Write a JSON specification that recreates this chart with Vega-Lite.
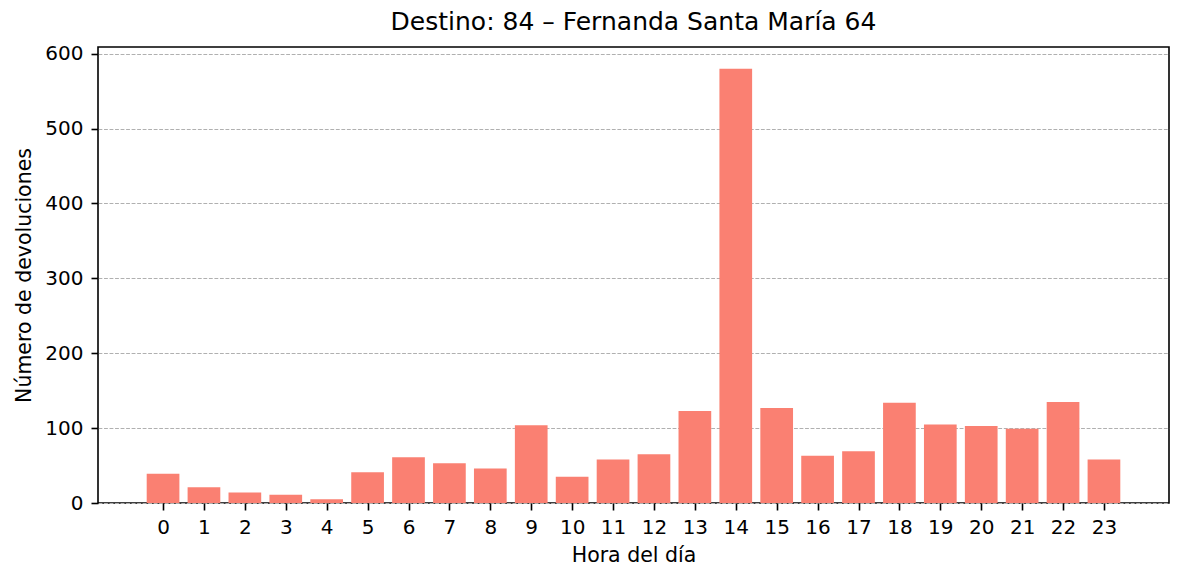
{
  "$schema": "https://vega.github.io/schema/vega-lite/v6.json",
  "width": 1071,
  "height": 456,
  "autosize": {"type": "none"},
  "padding": {"left": 98, "top": 47, "right": 15, "bottom": 78},
  "title": {
    "text": "Destino: 84 – Fernanda Santa María 64",
    "font": "DejaVu Sans",
    "fontSize": 25,
    "fontWeight": "normal",
    "color": "#000000",
    "anchor": "middle",
    "offset": 9
  },
  "config": {
    "view": {"stroke": "#000000", "strokeWidth": 1.6},
    "axis": {
      "labelFont": "DejaVu Sans",
      "labelFontSize": 20,
      "labelColor": "#000000",
      "titleFont": "DejaVu Sans",
      "titleFontSize": 20.5,
      "titleFontWeight": "normal",
      "titleColor": "#000000",
      "tickColor": "#000000",
      "tickSize": 7,
      "tickWidth": 1.6,
      "domain": false
    }
  },
  "data": {
    "values": [
      {"hora": 0, "n": 39},
      {"hora": 1, "n": 21},
      {"hora": 2, "n": 14},
      {"hora": 3, "n": 11},
      {"hora": 4, "n": 5},
      {"hora": 5, "n": 41},
      {"hora": 6, "n": 61},
      {"hora": 7, "n": 53},
      {"hora": 8, "n": 46},
      {"hora": 9, "n": 104},
      {"hora": 10, "n": 35},
      {"hora": 11, "n": 58},
      {"hora": 12, "n": 65},
      {"hora": 13, "n": 123},
      {"hora": 14, "n": 580},
      {"hora": 15, "n": 127},
      {"hora": 16, "n": 63},
      {"hora": 17, "n": 69},
      {"hora": 18, "n": 134},
      {"hora": 19, "n": 105},
      {"hora": 20, "n": 103},
      {"hora": 21, "n": 99},
      {"hora": 22, "n": 135},
      {"hora": 23, "n": 58}
    ]
  },
  "mark": {"type": "bar", "color": "#FA8072", "width": 32.7, "orient": "vertical"},
  "encoding": {
    "x": {
      "field": "hora",
      "type": "quantitative",
      "title": "Hora del día",
      "scale": {"domain": [-1.59, 24.59], "nice": false, "zero": false, "padding": 0},
      "axis": {
        "values": [0, 1, 2, 3, 4, 5, 6, 7, 8, 9, 10, 11, 12, 13, 14, 15, 16, 17, 18, 19, 20, 21, 22, 23],
        "labelAngle": 0,
        "grid": false,
        "labelPadding": 7,
        "labelFlush": false,
        "labelOverlap": false,
        "titlePadding": 8
      }
    },
    "y": {
      "field": "n",
      "type": "quantitative",
      "title": "Número de devoluciones",
      "scale": {"domain": [0, 609], "nice": false},
      "axis": {
        "values": [0, 100, 200, 300, 400, 500, 600],
        "grid": true,
        "gridColor": "#b0b0b0",
        "gridWidth": 1,
        "gridDash": [3.85, 1.67],
        "labelPadding": 8,
        "labelFlush": false,
        "titlePadding": 10
      }
    }
  }
}
